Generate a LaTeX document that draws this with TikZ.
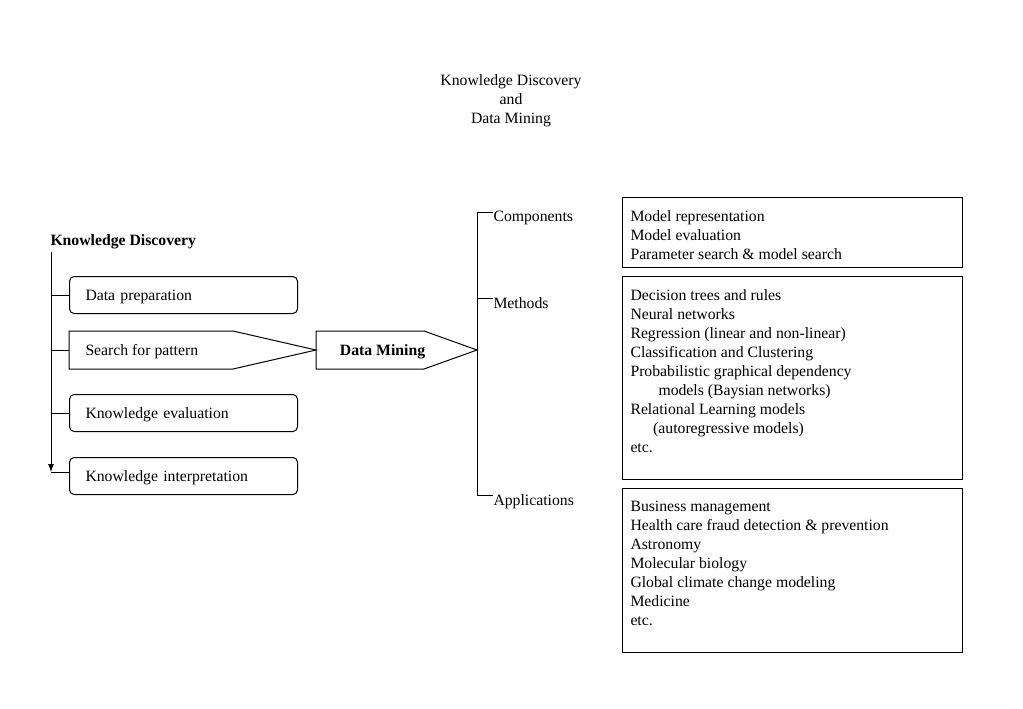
\documentclass[tikz,border=0pt]{standalone}
\usepackage{fontspec}
\setmainfont{Liberation Serif}
\usetikzlibrary{arrows.meta}
\begin{document}
\begin{tikzpicture}[x=0.75pt,y=-0.75pt, line width=0.75pt,
  font=\fontsize{11.8}{14.25}\selectfont,
  rbox/.style={draw, rounded corners=3.5pt, minimum width=171pt, minimum height=27.75pt,
    text width=147pt, inner xsep=12pt, inner ysep=0pt, text height=8pt, text depth=0pt,
    align=left, anchor=north west},
  sqbox/.style={draw, minimum width=255pt, anchor=north west},
  txt/.style={inner sep=0pt, align=left, anchor=north west},
  lbl/.style={inner sep=0pt, anchor=base west}]
\useasboundingbox (0,0) rectangle (1023,708);

% title
\node[align=center, inner sep=0pt] (title) at (511,101) {Knowledge Discovery\\and\\Data Mining};

% left column
\node[inner sep=0pt, anchor=base west, font=\fontsize{11.8}{14.25}\selectfont\bfseries] (kd) at (50,245) {Knowledge Discovery};
\coordinate (top) at (51,252);
\coordinate (bot) at (51,472);
\draw[-{Latex[length=6pt,width=4.5pt]}] (top) -- (bot);

\node[rbox] (dp) at (69,276) {Data preparation};
\node[rbox] (ke) at (69,394) {Knowledge evaluation};
\node[rbox] (ki) at (69,457) {Knowledge interpretation};

\draw (dp.west) -- (dp.west -| top);
\draw (ke.west) -- (ke.west -| top);
\coordinate (kiL) at (69,472);
\draw (kiL) -- (kiL -| top);

% search for pattern pentagon
\coordinate (sL) at (69,350);
\coordinate (sTip) at (316,350);
\draw (69,331) -- (233,331) -- (sTip) -- (233,369) -- (69,369) -- cycle;
\node[inner sep=0pt, anchor=base west] (sp) at (85,355) {Search for pattern};
\draw (sL) -- (sL -| top);

% data mining pentagon
\coordinate (dTip) at (477,350);
\draw (sTip) -- (316,331) -- (424,331) -- (dTip) -- (424,369) -- (316,369) -- cycle;
\node[inner sep=0pt, anchor=base, font=\fontsize{11.8}{14.25}\selectfont\bfseries] (dm) at (382.5,355) {Data Mining};

% right tree
\coordinate (rT) at (477,212);
\coordinate (rB) at (477,495);
\coordinate (rM) at (477,298);
\draw (rT) -- (rB);
\node[lbl] (comp) at (493,221) {Components};
\node[lbl] (meth) at (493,308) {Methods};
\node[lbl] (appl) at (493,505) {Applications};
\draw (rT) -- (rT -| comp.west);
\draw (rM) -- (rM -| meth.west);
\draw (rB) -- (rB -| appl.west);

% right boxes
\node[sqbox, minimum height=52.5pt] (b1) at (622,197) {};
\node[sqbox, minimum height=152.25pt] (b2) at (622,276) {};
\node[sqbox, minimum height=123pt] (b3) at (622,488) {};

\node[txt] (t1) at (630,210) {Model representation\\Model evaluation\\Parameter search \& model search};
\node[txt] (t2) at (630,289) {Decision trees and rules\\Neural networks\\Regression (linear and non-linear)\\Classification and Clustering\\Probabilistic graphical dependency\\\hspace*{21pt}models (Baysian networks)\\Relational Learning models\\\hspace*{17pt}(autoregressive models)\\etc.};
\node[txt] (t3) at (630,501) {Business management\\Health care fraud detection \& prevention\\Astronomy\\Molecular biology\\Global climate change modeling\\Medicine\\etc.};
\end{tikzpicture}
\end{document}
